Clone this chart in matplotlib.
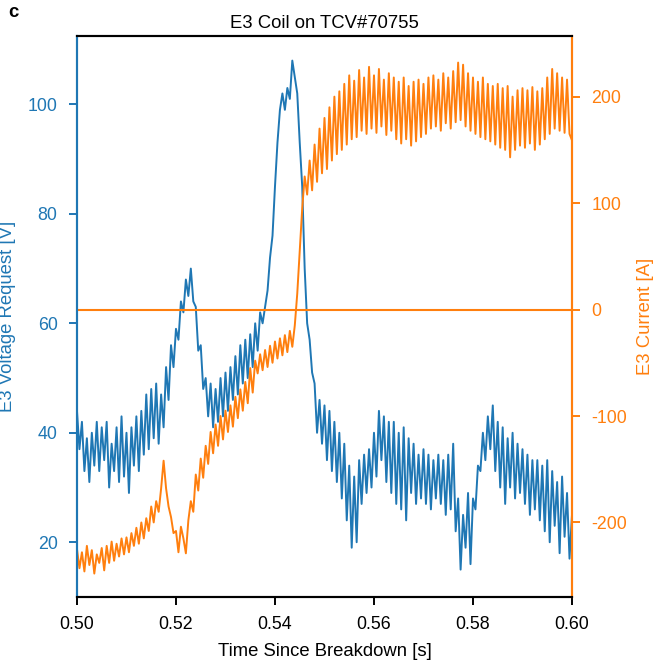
import numpy as np
import matplotlib
matplotlib.use("Agg")
import matplotlib.pyplot as plt

plt.rcParams['font.family'] = ['Liberation Sans', 'DejaVu Sans']
plt.rcParams['axes.unicode_minus'] = False

# time axis, 0.5 ms steps
t_start = 0.500
t_step = 0.0005

# E3 voltage request [V]
voltage = [
    44, 37, 42, 33, 39, 31, 40, 34, 42, 33,
    41, 35, 42, 30, 38, 33, 41, 31, 43, 32,
    40, 29, 41, 34, 43, 33, 44, 36, 47, 37,
    48, 39, 49, 38, 47, 41, 52, 46, 56, 52,
    59, 57, 64, 62, 68, 65, 70, 64, 63, 55,
    56, 48, 50, 43, 49, 41, 48, 42, 50, 43,
    51, 44, 52, 46, 54, 47, 56, 49, 57, 50,
    58, 52, 60, 55, 62, 60, 63, 66, 72, 76,
    85, 93, 99, 102, 99, 103, 101, 108, 105, 102,
    93, 85, 70, 60, 57, 51, 49, 40, 46, 38,
    45, 35, 44, 33, 42, 31, 40, 28, 38, 24,
    34, 19, 32, 20, 35, 27, 36, 29, 37, 30,
    40, 32, 44, 35, 43, 31, 42, 29, 42, 27,
    40, 26, 41, 24, 39, 29, 38, 27, 36, 28,
    37, 27, 36, 26, 35, 28, 36, 27, 35, 25,
    36, 26, 38, 22, 28, 15, 25, 19, 29, 16,
    28, 26, 34, 33, 40, 35, 43, 37, 45, 33,
    42, 30, 41, 27, 39, 30, 40, 28, 38, 29,
    37, 27, 36, 25, 35, 26, 35, 24, 34, 22,
    35, 20, 33, 23, 31, 18, 32, 21, 29, 17,
    25,
]

# E3 current [A]
current = [
    -225, -243, -228, -246, -222, -240, -226, -248, -230, -238,
    -224, -245, -222, -238, -218, -236, -220, -232, -215, -230,
    -214, -228, -210, -222, -205, -220, -200, -215, -196, -208,
    -185, -200, -180, -190, -168, -142, -168, -185, -195, -210,
    -208, -228, -204, -215, -229, -198, -180, -190, -155, -170,
    -140, -158, -128, -145, -115, -135, -108, -128, -100, -122,
    -95, -115, -90, -110, -82, -102, -75, -95, -68, -88,
    -55, -78, -48, -60, -42, -57, -38, -54, -34, -50,
    -30, -46, -27, -43, -24, -40, -20, -35, -15, 15,
    55, 95, 125, 108, 140, 112, 155, 120, 170, 128,
    180, 132, 190, 140, 200, 146, 205, 150, 212, 155,
    220, 160, 215, 162, 225, 168, 218, 165, 228, 170,
    220, 166, 226, 172, 216, 164, 222, 168, 218, 160,
    214, 156, 218, 160, 210, 154, 214, 158, 216, 162,
    212, 165, 218, 170, 220, 172, 216, 168, 222, 175,
    218, 170, 224, 176, 232, 178, 230, 172, 222, 168,
    218, 165, 214, 162, 218, 160, 212, 158, 210, 155,
    212, 152, 208, 150, 210, 143, 200, 150, 206, 154,
    208, 152, 206, 156, 209, 150, 205, 155, 208, 160,
    218, 165, 226, 170, 222, 168, 218, 166, 216, 165,
    159,
]

blue = '#1f77b4'
orange = '#ff7f0e'

t = t_start + t_step * np.arange(len(voltage))

fig = plt.figure(figsize=(6.54, 6.65), dpi=100)
ax = fig.add_axes([0.1177, 0.1023, 0.7569, 0.8436])
ax2 = ax.twinx()

ax.plot(t, voltage, color=blue, lw=1.4)
ax2.plot(t, current, color=orange, lw=1.4)
ax2.axhline(0, color=orange, lw=1.5)

ax.set_xlim(0.50, 0.60)
ax.set_ylim(10, 112.5)
ax2.set_ylim(-270, 257)
ax.set_xticks([0.50, 0.52, 0.54, 0.56, 0.58, 0.60])
ax.set_xticklabels(['0.50', '0.52', '0.54', '0.56', '0.58', '0.60'])
ax.set_yticks([20, 40, 60, 80, 100])
ax2.set_yticks([-200, -100, 0, 100, 200])

fs = 13.3
tfs = 12.8
ax.set_xlabel('Time Since Breakdown [s]', fontsize=fs, labelpad=7)
ax.set_ylabel('E3 Voltage Request [V]', fontsize=fs, color=blue)
ax2.set_ylabel('E3 Current [A]', fontsize=fs, color=orange)
ax.yaxis.set_label_coords(-0.124, 0.5)
ax2.yaxis.set_label_coords(1.131, 0.5)
ax.set_title('E3 Coil on TCV#70755', fontsize=fs, pad=6)
fig.text(0.013, 0.981, 'c', fontsize=fs, fontweight='bold', va='center')

ax.tick_params(axis='x', labelsize=tfs, length=6, width=1.4, pad=8)
ax.tick_params(axis='y', colors=blue, labelsize=tfs, length=6, width=1.4, pad=8)
ax2.tick_params(axis='y', colors=orange, labelsize=tfs, length=6, width=1.4, pad=8)

for a in (ax, ax2):
    a.spines['top'].set_linewidth(1.5)
    a.spines['bottom'].set_linewidth(1.5)
    a.spines['left'].set_linewidth(1.5)
    a.spines['right'].set_linewidth(1.5)
    a.spines['left'].set_color(blue)
    a.spines['right'].set_color(orange)

fig.savefig('out.png', dpi=100)
